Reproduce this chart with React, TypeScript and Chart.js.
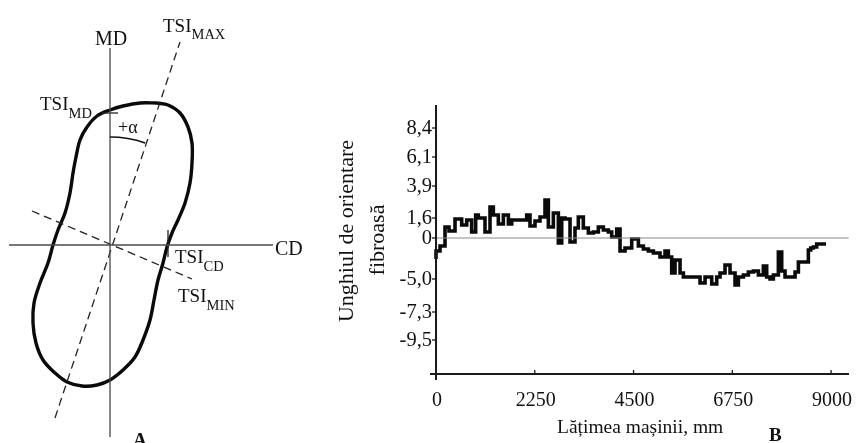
import React, { useEffect, useRef } from 'react';
import { Chart, registerables } from 'chart.js';

Chart.register(...registerables);

const FONT = '"Liberation Serif", "Times New Roman", serif';

// ---------- Panel A: TSI polar diagram (coordinates relative to the MD/CD origin) ----------
const contourX = [47, 30, 13, 0, -13, -23, -30, -34, -37, -40, -45, -52, -57, -62, -70, -76, -77, -74, -67, -55, -43, -28, -13, 0, 13, 25, 33, 40, 44, 48, 53, 57, 62, 68, 75, 80, 82, 82, 78, 70, 58, 47];
const contourY = [142, 142, 139, 135, 129, 118, 105, 88, 72, 52, 32, 15, 0, -18, -38, -58, -78, -98, -115, -128, -137, -141, -140, -135, -125, -112, -95, -75, -55, -35, -18, -2, 12, 25, 42, 62, 82, 102, 118, 132, 140, 142];
const mdAxisX = [0, 0];
const mdAxisY = [197, -192];
const cdAxisX = [-101, 163];
const cdAxisY = [0, 0];
const tsiMaxX = [-55, 70];
const tsiMaxY = [-173, 203];
const tsiMinX = [-78, 82];
const tsiMinY = [34, -34];
const tsiMdTickX = [-8, 8];
const tsiMdTickY = [132, 132];
const tsiCdTickX = [58, 58];
const tsiCdTickY = [15, -12];

// ---------- Panel B: fibre orientation angle across machine width ----------
const stepStartMm = [0, 91, 205, 296, 433, 585, 699, 812, 903, 964, 1116, 1230, 1306, 1420, 1534, 1648, 1724, 2066, 2141, 2255, 2369, 2483, 2559, 2673, 2787, 2863, 2939, 3053, 3166, 3242, 3356, 3470, 3584, 3698, 3812, 3926, 4002, 4116, 4192, 4306, 4458, 4610, 4724, 4838, 4952, 5103, 5217, 5293, 5369, 5445, 5559, 5635, 6015, 6129, 6281, 6395, 6470, 6584, 6698, 6812, 6888, 7002, 7116, 7230, 7344, 7457, 7533, 7609, 7685, 7799, 7875, 7951, 8179, 8255, 8482, 8536, 8596, 8672, 8786];
const stepValue = [-2.1, -1.3, -0.8, 1.1, 0.7, 1.9, 1.3, 1.8, 0.6, 2.3, 2.0, 0.6, 3.1, 2.3, 1.4, 2.3, 1.4, 1.8, 2.3, 1.2, 1.7, 2.1, 3.8, 1.1, 2.5, -0.5, 2.0, 1.9, -0.4, 1.0, 2.1, 1.0, 0.5, 0.6, 1.1, 0.8, 0.6, 0.1, 0.9, -1.3, -1.0, -0.1, -0.8, -1.1, -1.3, -1.5, -1.9, -1.3, -1.9, -3.5, -2.2, -3.5, -3.9, -4.5, -3.9, -4.6, -3.9, -3.5, -2.7, -3.5, -4.7, -3.9, -3.7, -3.4, -3.3, -3.7, -2.8, -3.9, -4.1, -3.7, -1.4, -3.3, -3.9, -3.4, -2.4, -1.2, -1.0, -0.9, -0.6];
const stepEndMm = 8885;
const xTickValues = [0, 2250, 4500, 6750, 9000];
const xTickLabels = ['0', '2250', '4500', '6750', '9000'];
const yTickValues = [11.0, 8.1, 5.2, 2.0, 0, -4.1, -7.4, -10.2];
const yTickLabels = ['8,4', '6,1', '3,9', '1,6', '0', '-5,0', '-7,3', '-9,5'];
const xAxisAt = -13.6;

const pts = (xs: number[], ys: number[]) => xs.map((x, i) => ({ x, y: ys[i] }));

function lineDs(data: { x: number; y: number }[], color: string, width: number, dash: number[] = [], tension = 0) {
  return {
    data,
    showLine: true,
    fill: false,
    borderColor: color,
    borderWidth: width,
    borderDash: dash,
    pointRadius: 0,
    tension,
  } as any;
}

function drawSubText(ctx: CanvasRenderingContext2D, main: string, sub: string, px: number, py: number, size: number, subSize: number, subDrop: number) {
  ctx.font = `${size}px ${FONT}`;
  ctx.textAlign = 'left';
  ctx.textBaseline = 'alphabetic';
  ctx.fillText(main, px, py);
  const w = ctx.measureText(main).width;
  if (sub) {
    ctx.font = `${subSize}px ${FONT}`;
    ctx.fillText(sub, px + w, py + subDrop);
  }
}

const labelsA = {
  id: 'labelsA',
  afterDatasetsDraw(chart: any) {
    const { ctx } = chart;
    const sx = chart.scales.x;
    const sy = chart.scales.y;
    const P = (x: number, y: number) => [sx.getPixelForValue(x), sy.getPixelForValue(y)];
    ctx.save();
    ctx.fillStyle = '#111';
    ctx.font = `20px ${FONT}`;
    ctx.textAlign = 'center';
    ctx.textBaseline = 'alphabetic';
    let [px, py] = P(1, 200);
    ctx.fillText('MD', px, py);
    [px, py] = P(165, -10);
    ctx.textAlign = 'left';
    ctx.fillText('CD', px, py);
    [px, py] = P(53, 213);
    drawSubText(ctx, 'TSI', 'MAX', px, py, 19, 14.5, 7);
    [px, py] = P(-70, 135);
    drawSubText(ctx, 'TSI', 'MD', px, py, 19, 14.5, 8);
    [px, py] = P(65, -18);
    drawSubText(ctx, 'TSI', 'CD', px, py, 19, 14.5, 8);
    [px, py] = P(68, -57);
    drawSubText(ctx, 'TSI', 'MIN', px, py, 19, 14.5, 8);
    [px, py] = P(8, 112);
    ctx.font = `18px ${FONT}`;
    ctx.textAlign = 'left';
    ctx.fillText('+α', px, py);
    const [ox, oy] = P(0, 0);
    const r = sx.getPixelForValue(108) - sx.getPixelForValue(0);
    const [tx, ty] = P(tsiMaxX[1], tsiMaxY[1]);
    const endAng = Math.atan2(ty - oy, tx - ox);
    ctx.beginPath();
    ctx.strokeStyle = '#111';
    ctx.lineWidth = 1.6;
    ctx.arc(ox, oy, r, -Math.PI / 2, endAng, false);
    ctx.stroke();
    [px, py] = P(30, -202);
    ctx.font = `bold 20px ${FONT}`;
    ctx.textAlign = 'center';
    ctx.fillText('A', px, py);
    ctx.restore();
  },
};

const axesB = {
  id: 'axesB',
  afterDatasetsDraw(chart: any) {
    const { ctx, chartArea } = chart;
    const sx = chart.scales.x;
    const sy = chart.scales.y;
    const x0 = sx.getPixelForValue(0);
    const yAx = sy.getPixelForValue(xAxisAt);
    ctx.save();
    ctx.strokeStyle = '#1a1a1a';
    ctx.lineWidth = 2;
    ctx.beginPath();
    ctx.moveTo(x0, chartArea.top);
    ctx.lineTo(x0, chartArea.bottom);
    ctx.moveTo(chartArea.left, yAx);
    ctx.lineTo(chartArea.right, yAx);
    ctx.stroke();
    ctx.lineWidth = 1.3;
    ctx.fillStyle = '#111';
    ctx.font = `20.5px ${FONT}`;
    ctx.textAlign = 'right';
    ctx.textBaseline = 'middle';
    yTickValues.forEach((v, i) => {
      const p = sy.getPixelForValue(v);
      ctx.beginPath();
      ctx.moveTo(x0 - 4, p);
      ctx.lineTo(x0, p);
      ctx.stroke();
      ctx.fillText(yTickLabels[i], x0 - 4, p + 1);
    });
    ctx.font = `20px ${FONT}`;
    ctx.textAlign = 'center';
    ctx.textBaseline = 'alphabetic';
    xTickValues.forEach((v, i) => {
      const p = sx.getPixelForValue(v);
      if (v !== 0) {
        ctx.beginPath();
        ctx.moveTo(p, yAx);
        ctx.lineTo(p, yAx - 4);
        ctx.stroke();
      }
      ctx.fillText(xTickLabels[i], p + 1, yAx + 32);
    });
    ctx.font = `19.5px ${FONT}`;
    ctx.fillText('Lățimea mașinii, mm', sx.getPixelForValue(4650), yAx + 59);
    ctx.font = `bold 19px ${FONT}`;
    ctx.fillText('B', sx.getPixelForValue(7730), yAx + 67);
    ctx.font = `22px ${FONT}`;
    ctx.textBaseline = 'middle';
    ctx.save();
    ctx.translate(x0 - 89, sy.getPixelForValue(0.7));
    ctx.rotate(-Math.PI / 2);
    ctx.fillText('Unghiul de orientare', 0, 0);
    ctx.restore();
    ctx.save();
    ctx.translate(x0 - 58, sy.getPixelForValue(-0.2));
    ctx.rotate(-Math.PI / 2);
    ctx.fillText('fibroasă', 0, 0);
    ctx.restore();
    ctx.restore();
  },
};

export default function App() {
  const refA = useRef<HTMLCanvasElement>(null);
  const refB = useRef<HTMLCanvasElement>(null);

  useEffect(() => {
    const chartA = new Chart(refA.current as HTMLCanvasElement, {
      type: 'scatter',
      data: {
        datasets: [
          lineDs(pts(mdAxisX, mdAxisY), '#4a4a4a', 1.3),
          lineDs(pts(cdAxisX, cdAxisY), '#4a4a4a', 1.3),
          lineDs(pts(tsiMaxX, tsiMaxY), '#222', 1.3, [8, 5]),
          lineDs(pts(tsiMinX, tsiMinY), '#222', 1.3, [8, 5]),
          lineDs(pts(tsiMdTickX, tsiMdTickY), '#222', 1.3),
          lineDs(pts(tsiCdTickX, tsiCdTickY), '#222', 1.3),
          lineDs(pts(contourX, contourY), '#0a0a0a', 3.4, [], 0.35),
        ],
      },
      options: {
        animation: false,
        responsive: false,
        events: [],
        layout: { padding: 0 },
        plugins: { legend: { display: false }, tooltip: { enabled: false } },
        scales: {
          x: { type: 'linear', display: false, min: -110, max: 220 },
          y: { type: 'linear', display: false, min: -198, max: 245 },
        },
      },
      plugins: [labelsA],
    } as any);

    const stepPts = stepStartMm.map((x, i) => ({ x, y: stepValue[i] }));
    stepPts.push({ x: stepEndMm, y: stepValue[stepValue.length - 1] });

    const chartB = new Chart(refB.current as HTMLCanvasElement, {
      type: 'scatter',
      data: {
        datasets: [
          lineDs([{ x: 0, y: 0 }, { x: 9400, y: 0 }], '#8a8a8a', 1.2),
          { ...lineDs(stepPts, '#0a0a0a', 3.6), stepped: 'after', borderJoinStyle: 'miter' },
        ],
      },
      options: {
        animation: false,
        responsive: false,
        events: [],
        layout: { padding: { left: 100, right: 9, top: 105, bottom: 63 } },
        plugins: { legend: { display: false }, tooltip: { enabled: false } },
        scales: {
          x: { type: 'linear', display: false, min: -137, max: 9408 },
          y: { type: 'linear', display: false, min: -14.2, max: 13.3 },
        },
      },
      plugins: [axesB],
    } as any);

    return () => {
      chartA.destroy();
      chartB.destroy();
    };
  }, []);

  return (
    <div style={{ position: 'fixed', left: 0, top: 0, width: 858, height: 443, background: '#fff', overflow: 'hidden' }}>
      <canvas ref={refA} width={330} height={443} style={{ position: 'absolute', left: 0, top: 0 }} />
      <canvas ref={refB} width={528} height={443} style={{ position: 'absolute', left: 330, top: 0 }} />
    </div>
  );
}
